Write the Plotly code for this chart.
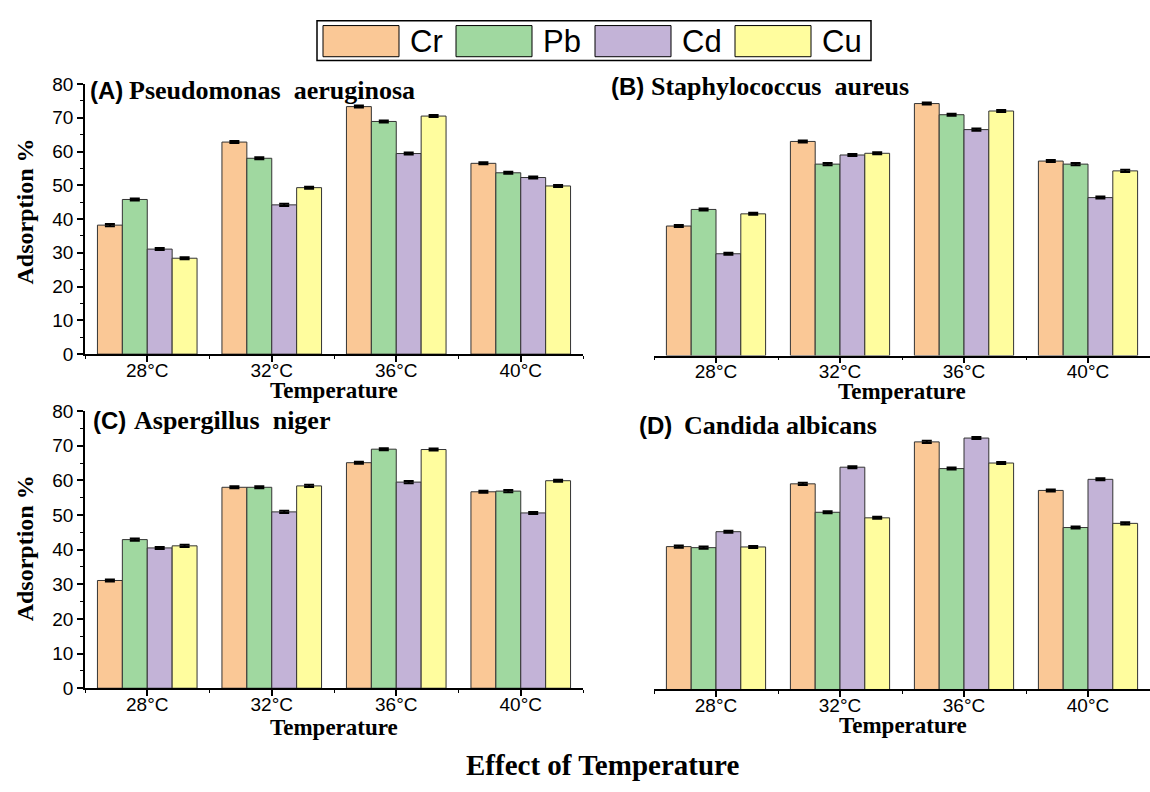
import plotly.graph_objects as go

# ---------------- data ----------------
TEMPS = ["28°C", "32°C", "36°C", "40°C"]
METALS = ["Cr", "Pb", "Cd", "Cu"]
COLORS = ["#FAC896", "#A0D8A0", "#C3B3D7", "#FFFD9E"]
ERR = 0.3

A_CR = [38.2, 62.8, 73.3, 56.5]
A_PB = [45.8, 58.0, 68.9, 53.7]
A_CD = [31.1, 44.2, 59.4, 52.3]
A_CU = [28.4, 49.3, 70.5, 49.8]

B_CR = [38.3, 63.3, 74.5, 57.5]
B_PB = [43.2, 56.6, 71.2, 56.6]
B_CD = [30.1, 59.3, 66.8, 46.7]
B_CU = [41.9, 59.8, 72.3, 54.6]

C_CR = [31.1, 58.0, 65.1, 56.7]
C_PB = [42.9, 58.0, 69.0, 56.9]
C_CD = [40.5, 50.9, 59.5, 50.6]
C_CU = [41.1, 58.4, 68.9, 59.9]

D_CR = [41.2, 59.3, 71.4, 57.4]
D_PB = [40.9, 51.1, 63.7, 46.7]
D_CD = [45.5, 64.1, 72.5, 60.6]
D_CU = [41.1, 49.5, 65.3, 47.9]

PANEL_LABELS = ["(A)", "(B)", "(C)", "(D)"]
SPECIES = ["Pseudomonas&nbsp; aeruginosa", "Staphylococcus&nbsp; aureus",
           "Aspergillus&nbsp; niger", "Candida albicans"]
PANEL_DATA = [
    [A_CR, A_PB, A_CD, A_CU],
    [B_CR, B_PB, B_CD, B_CU],
    [C_CR, C_PB, C_CD, C_CU],
    [D_CR, D_PB, D_CD, D_CU],
]

# ---------------- layout helpers ----------------
W, H = 1150, 792
SANS = "Liberation Sans, Arial, sans-serif"
SERIF = "Liberation Serif, Times New Roman, serif"


def fx(px):
    return px / W


def fy(py):
    return 1 - py / H


# plot-area boxes in pixels: (left, right, top, bottom)
BOXES = [
    (85, 583, 76, 353.5),
    (654, 1151, 77, 355),
    (85, 583, 412, 696.7),
    (654, 1151, 413, 698),
]
SHOW_Y = [True, False, True, False]
TITLE_POS = [  # (label x, species x, y center)
    (88, 127, 83),
    (609, 649, 79),
    (91, 132, 422),
    (637, 682, 427),
]
XTITLE_POS = [(334, 391), (902, 392), (334, 737), (903, 735)]
YTITLE_POS = [(25, 207), (25, 553)]

fig = go.Figure()
layout = dict(
    width=W, height=H,
    margin=dict(l=0, r=0, t=0, b=0),
    paper_bgcolor="white", plot_bgcolor="white",
    barmode="group", bargap=0.2, bargroupgap=0.0,
    showlegend=False,
    font=dict(family=SANS, color="black"),
)

annotations = []
shapes = []

for i, (series, box) in enumerate(zip(PANEL_DATA, BOXES)):
    sfx = "" if i == 0 else str(i + 1)
    for j, vals in enumerate(series):
        fig.add_trace(go.Bar(
            x=list(range(len(TEMPS))), y=vals, name=METALS[j],
            xaxis="x" + sfx, yaxis="y" + sfx,
            marker=dict(color=COLORS[j], line=dict(color="#333333", width=1)),
            error_y=dict(type="constant", value=ERR, color="black",
                         thickness=2, width=5),
            showlegend=False,
        ))
    l, r, t, b = box
    xdom = [fx(l), min(1.0, fx(r))]
    ydom = [fy(b), fy(t)]
    layout["xaxis" + sfx] = dict(
        domain=xdom, anchor="y" + sfx, range=[-0.5, 3.5],
        tickmode="array", tickvals=list(range(len(TEMPS))), ticktext=TEMPS,
        ticks="outside", ticklen=6, tickwidth=1.5, tickcolor="black",
        ticklabelstandoff=-8,
        showline=True, linecolor="black", linewidth=1.5,
        showgrid=False, zeroline=False,
        tickfont=dict(family=SANS, size=19, color="black"),
        minor=dict(tickmode="array", tickvals=[-0.5, 0.5, 1.5, 2.5, 3.5],
                   ticks="outside", ticklen=3, tickwidth=1.2, tickcolor="black"),
    )
    if SHOW_Y[i]:
        layout["yaxis" + sfx] = dict(
            domain=ydom, anchor="x" + sfx, range=[0, 80],
            tickmode="linear", tick0=0, dtick=10,
            ticks="outside", ticklen=6, tickwidth=1.5, tickcolor="black",
            showline=True, linecolor="black", linewidth=1.5,
            showgrid=False, zeroline=False,
            tickfont=dict(family=SANS, size=19, color="black"),
            minor=dict(dtick=5, ticks="outside", ticklen=3, tickwidth=1.2,
                       tickcolor="black"),
        )
    else:
        layout["yaxis" + sfx] = dict(
            domain=ydom, anchor="x" + sfx, range=[0, 80],
            showline=False, showticklabels=False, ticks="",
            showgrid=False, zeroline=False,
        )

    lx, sx, ty = TITLE_POS[i]
    annotations.append(dict(
        xref="paper", yref="paper", x=fx(lx), y=fy(ty),
        xanchor="left", yanchor="middle", showarrow=False,
        text="<b>" + PANEL_LABELS[i] + "</b>",
        font=dict(family=SANS, size=24, color="black"),
    ))
    annotations.append(dict(
        xref="paper", yref="paper", x=fx(sx), y=fy(ty),
        xanchor="left", yanchor="middle", showarrow=False,
        text="<b>" + SPECIES[i] + "</b>",
        font=dict(family=SERIF, size=26, color="black"),
    ))
    tx, tyy = XTITLE_POS[i]
    annotations.append(dict(
        xref="paper", yref="paper", x=fx(tx), y=fy(tyy),
        xanchor="center", yanchor="middle", showarrow=False,
        text="<b>Temperature</b>",
        font=dict(family=SERIF, size=23, color="black"),
    ))

for (yx, yy) in YTITLE_POS:
    annotations.append(dict(
        xref="paper", yref="paper", x=fx(yx), y=fy(yy),
        xanchor="center", yanchor="middle", showarrow=False, textangle=-90,
        text="<b>Adsorption %</b>",
        font=dict(family=SERIF, size=24, color="black"),
    ))

annotations.append(dict(
    xref="paper", yref="paper", x=fx(602), y=fy(776),
    xanchor="center", yanchor="middle", showarrow=False,
    text="<b>Effect of Temperature</b>",
    font=dict(family=SERIF, size=29, color="black"),
))

# ---------------- legend (drawn manually for large swatches) ----------------
LEG_BOX = (317, 871, 11, 52)
SW_X = [323, 456, 595, 735]
SW_W = 76
SW_TOP, SW_BOT = 16, 48
shapes.append(dict(type="rect", xref="paper", yref="paper",
                   x0=fx(LEG_BOX[0]), x1=fx(LEG_BOX[1]),
                   y0=fy(LEG_BOX[3]), y1=fy(LEG_BOX[2]),
                   line=dict(color="black", width=1.5), fillcolor="white",
                   layer="below"))
for k, name in enumerate(METALS):
    shapes.append(dict(type="rect", xref="paper", yref="paper",
                       x0=fx(SW_X[k]), x1=fx(SW_X[k] + SW_W),
                       y0=fy(SW_BOT), y1=fy(SW_TOP),
                       line=dict(color="black", width=1), fillcolor=COLORS[k]))
    annotations.append(dict(
        xref="paper", yref="paper", x=fx(SW_X[k] + SW_W + 9), y=fy(32),
        xanchor="left", yanchor="middle", showarrow=False, text=name,
        font=dict(family=SANS, size=31, color="black"),
    ))

layout["annotations"] = annotations
layout["shapes"] = shapes
fig.update_layout(**layout)
fig.write_html(
    "out.html",
    config={"displayModeBar": False},
    post_script="document.body.style.margin='0';document.body.style.overflow='hidden';",
)
